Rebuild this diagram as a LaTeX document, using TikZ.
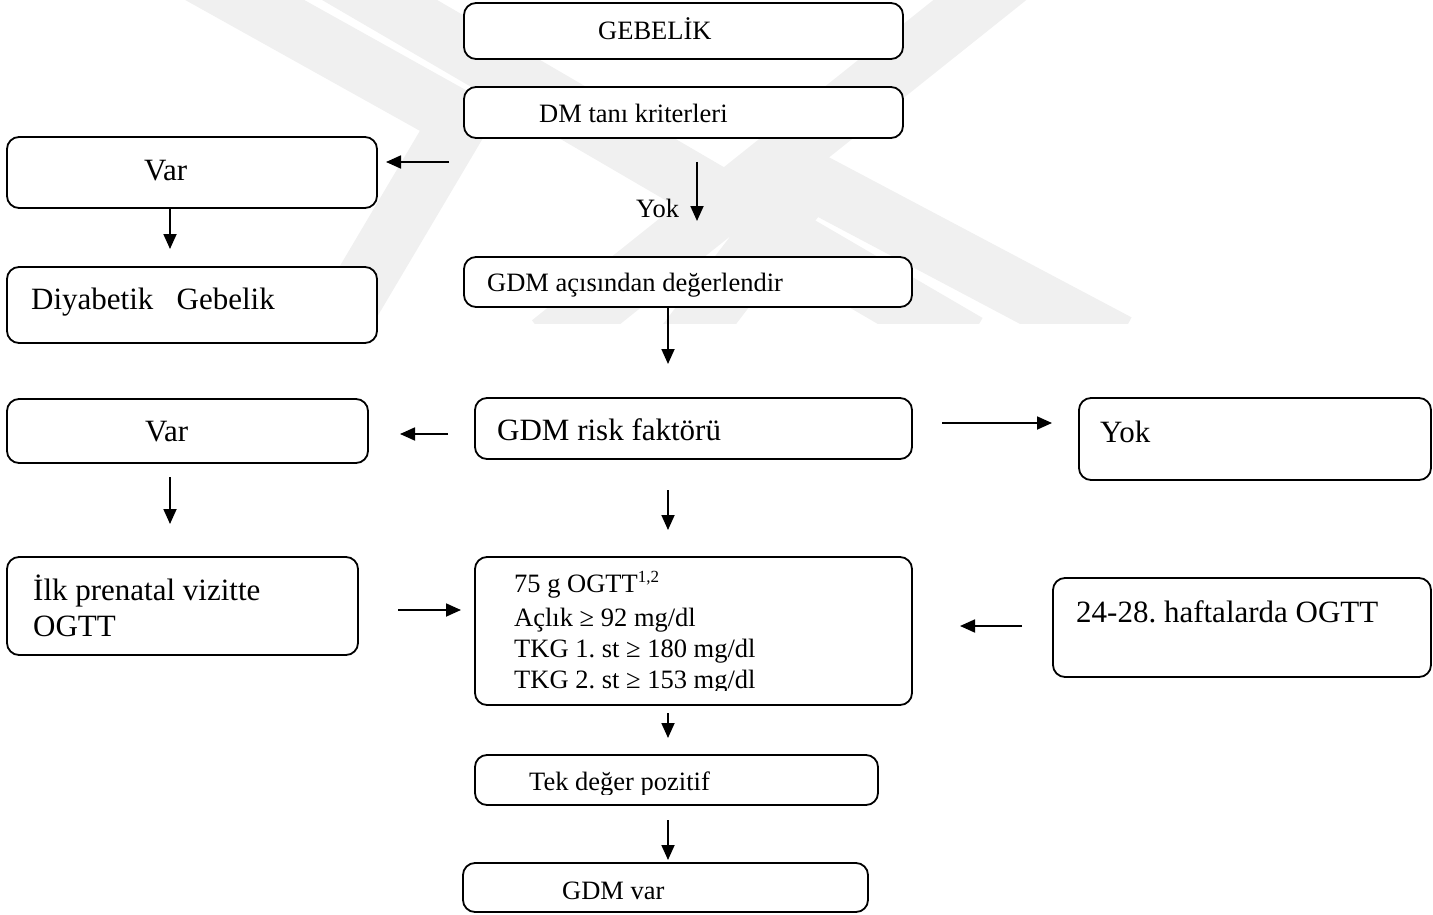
\documentclass[tikz,border=0pt]{standalone}
\usepackage{fontspec}
\setmainfont{Liberation Serif}
\usetikzlibrary{arrows.meta}
\tikzset{
  box/.style={draw=black, line width=1.8pt, rounded corners=12pt, fill=white, inner sep=0pt, outer sep=0pt},
  arr/.style={line width=1.8pt, -{Triangle[length=15pt,width=13pt]}},
  sm/.style={font=\fontsize{26.5}{32}\selectfont, anchor=base west, inner sep=0pt},
  bg/.style={font=\fontsize{31}{36}\selectfont, anchor=base west, inner sep=0pt},
  wm/.style={draw=black!6, line width=58pt, line join=miter, line cap=butt},
}
\begin{document}
\frenchspacing
\begin{tikzpicture}[x=1pt,y=-1pt]
\useasboundingbox (0,0) rectangle (1433,915);
% faint watermark
\begin{scope}
  \clip (0,0) rectangle (1433,323);
  \draw[wm] (173,-40) -- (460,120) -- (328,343);
  \draw[wm] (311,-40) -- (968,343);
  \draw[wm] (1030,-40) -- (550,343);
  \draw[wm] (685,343) -- (810,180) -- (1118,343);
\end{scope}
% boxes
\node[box, minimum width=439pt, minimum height=56pt] (gebelik) at (683.5,31) {};
\node[box, minimum width=439pt, minimum height=51pt] (dm) at (683.5,112.5) {};
\node[box, minimum width=370pt, minimum height=71pt] (var1) at (192,172.5) {};
\node[box, minimum width=370pt, minimum height=76pt] (diyab) at (192,305) {};
\node[box, minimum width=448pt, minimum height=50pt] (gdmdeg) at (688,282) {};
\node[box, minimum width=437pt, minimum height=61pt] (risk) at (693.5,428.5) {};
\node[box, minimum width=361pt, minimum height=64pt] (var2) at (187.5,431) {};
\node[box, minimum width=352pt, minimum height=82pt] (yokr) at (1255,439) {};
\node[box, minimum width=351pt, minimum height=98pt] (ilk) at (182.5,606) {};
\node[box, minimum width=437pt, minimum height=148pt] (ogtt) at (693.5,631) {};
\node[box, minimum width=378pt, minimum height=99pt] (hafta) at (1242,627.5) {};
\node[box, minimum width=403pt, minimum height=50pt] (tek) at (676.5,780) {};
\node[box, minimum width=405pt, minimum height=49pt] (gdmvar) at (665.5,887.5) {};
% texts
\node[sm] (t-gebelik) at (598,40) {GEBELİK};
\node[sm] (t-dm) at (539,123) {DM tanı kriterleri};
\node[bg] (t-var1) at (144,181) {Var};
\node[sm] (t-yok) at (636,217) {Yok};
\node[bg] (t-diyab) at (31,309) {Diyabetik\ \ \ Gebelik};
\node[sm] (t-gdmdeg) at (487,291) {GDM açısından değerlendir};
\node[bg] (t-risk) at (497,440) {GDM risk faktörü};
\node[bg] (t-var2) at (145,441) {Var};
\node[bg] (t-yokr) at (1100,442) {Yok};
\node[bg] (t-ilk1) at (33,600) {İlk prenatal vizitte};
\node[bg] (t-ilk2) at (33,636) {OGTT};
\node[sm] (t-o1) at (514,592) {75 g OGTT\textsuperscript{\fontsize{17}{20}\selectfont 1,2}};
\node[sm] (t-o2) at (514,626) {Açlık ≥ 92 mg/dl};
\node[sm] (t-o3) at (514,657) {TKG 1. st ≥ 180 mg/dl};
\begin{scope}
  \clip (476,640) rectangle (911,690);
  \node[sm] (t-o4) at (514,688) {TKG 2. st ≥ 153 mg/dl};
\end{scope}
\node[bg] (t-hafta) at (1076,622) {24-28. haftalarda OGTT};
\begin{scope}
  \clip (476,756) rectangle (877,794);
  \node[sm] (t-tek) at (529,790) {Tek değer pozitif};
\end{scope}
\node[sm] (t-gdmvar) at (562,899) {GDM var};
% arrow end points
\coordinate (a1s) at (449,162); \coordinate (a1e) at (386,162);
\coordinate (a2s) at (170,208); \coordinate (a2e) at (170,249);
\coordinate (a3s) at (697,162); \coordinate (a3e) at (697,221);
\coordinate (a4s) at (668,307); \coordinate (a4e) at (668,364);
\coordinate (a5s) at (448,434); \coordinate (a5e) at (400,434);
\coordinate (a6s) at (942,423); \coordinate (a6e) at (1052,423);
\coordinate (a7s) at (170,477); \coordinate (a7e) at (170,524);
\coordinate (a8s) at (668,490); \coordinate (a8e) at (668,530);
\coordinate (a9s) at (398,610); \coordinate (a9e) at (461,610);
\coordinate (a10s) at (1022,626); \coordinate (a10e) at (960,626);
\coordinate (a11s) at (668,713); \coordinate (a11e) at (668,738);
\coordinate (a12s) at (668,820); \coordinate (a12e) at (668,860);
\foreach \i in {1,...,12} { \draw[arr] (a\i s) -- (a\i e); }
\end{tikzpicture}
\end{document}
